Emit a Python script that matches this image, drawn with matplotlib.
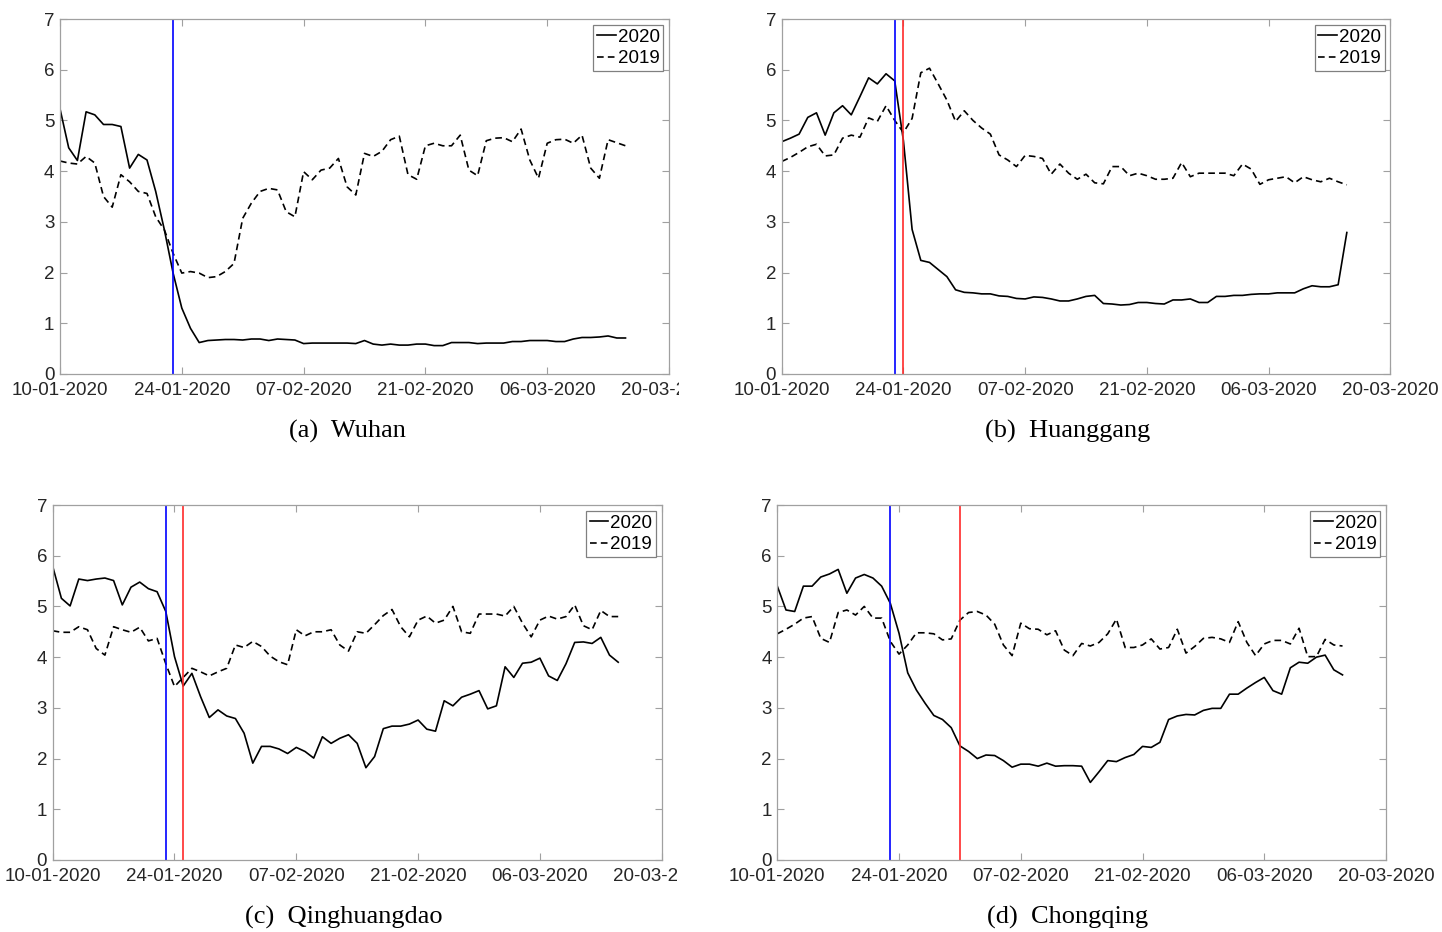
import numpy as np
import pandas as pd
import matplotlib
matplotlib.use("Agg")
import matplotlib.pyplot as plt
import matplotlib.dates as mdates
from matplotlib.transforms import Bbox, TransformedBbox

# daily index, 10 Jan - 15 Mar
dates = pd.date_range("2020-01-10", periods=66, freq="D")

wuhan_2020 = [5.23, 4.46, 4.21, 5.17, 5.11, 4.92, 4.92, 4.88, 4.06, 4.33,
              4.22, 3.60, 2.84, 1.99, 1.30, 0.90, 0.62, 0.66, 0.67, 0.68,
              0.68, 0.67, 0.69, 0.69, 0.66, 0.69, 0.68, 0.67, 0.60, 0.61,
              0.61, 0.61, 0.61, 0.61, 0.60, 0.66, 0.59, 0.57, 0.59, 0.57,
              0.57, 0.59, 0.59, 0.56, 0.56, 0.62, 0.62, 0.62, 0.60, 0.61,
              0.61, 0.61, 0.64, 0.64, 0.66, 0.66, 0.66, 0.64, 0.64, 0.69,
              0.72, 0.72, 0.73, 0.75, 0.71, 0.71]
wuhan_2019 = [4.20, 4.16, 4.14, 4.29, 4.16, 3.50, 3.29, 3.93, 3.79, 3.60,
              3.56, 3.10, 2.84, 2.38, 1.99, 2.02, 1.99, 1.90, 1.92, 2.02,
              2.18, 3.07, 3.37, 3.60, 3.66, 3.63, 3.20, 3.10, 3.99, 3.83,
              4.02, 4.06, 4.25, 3.69, 3.53, 4.35, 4.29, 4.39, 4.62, 4.69,
              3.93, 3.84, 4.50, 4.55, 4.50, 4.50, 4.71, 4.02, 3.91, 4.60,
              4.65, 4.66, 4.58, 4.83, 4.22, 3.86, 4.55, 4.62, 4.63, 4.55,
              4.71, 4.06, 3.86, 4.62, 4.56, 4.50]

huanggang_2020 = [4.58, 4.65, 4.73, 5.06, 5.15, 4.71, 5.15, 5.29, 5.11, 5.47,
                  5.84, 5.72, 5.92, 5.78, 4.60, 2.85, 2.24, 2.20, 2.06, 1.92,
                  1.66, 1.61, 1.60, 1.58, 1.58, 1.54, 1.53, 1.49, 1.48, 1.52,
                  1.51, 1.48, 1.44, 1.44, 1.48, 1.53, 1.55, 1.39, 1.38, 1.36,
                  1.37, 1.41, 1.41, 1.39, 1.38, 1.46, 1.46, 1.48, 1.41, 1.41,
                  1.53, 1.53, 1.55, 1.55, 1.57, 1.58, 1.58, 1.60, 1.60, 1.60,
                  1.68, 1.74, 1.72, 1.72, 1.76, 2.79]
huanggang_2019 = [4.19, 4.27, 4.37, 4.48, 4.53, 4.30, 4.32, 4.65, 4.71, 4.67,
                  5.05, 4.98, 5.29, 5.00, 4.76, 5.04, 5.94, 6.03, 5.72, 5.40,
                  4.98, 5.19, 5.00, 4.85, 4.73, 4.32, 4.22, 4.09, 4.31, 4.29,
                  4.25, 3.94, 4.14, 3.96, 3.84, 3.94, 3.77, 3.75, 4.09, 4.09,
                  3.91, 3.96, 3.91, 3.84, 3.84, 3.86, 4.17, 3.89, 3.96, 3.96,
                  3.96, 3.96, 3.91, 4.14, 4.04, 3.74, 3.83, 3.86, 3.89, 3.77,
                  3.89, 3.83, 3.79, 3.86, 3.79, 3.73]

qinhuangdao_2020 = [5.79, 5.16, 5.01, 5.54, 5.51, 5.54, 5.56, 5.51, 5.03, 5.38,
                    5.48, 5.35, 5.29, 4.90, 4.01, 3.43, 3.68, 3.22, 2.81, 2.96,
                    2.84, 2.79, 2.50, 1.91, 2.24, 2.24, 2.19, 2.10, 2.22, 2.14,
                    2.01, 2.43, 2.30, 2.40, 2.47, 2.30, 1.82, 2.04, 2.59, 2.64,
                    2.64, 2.68, 2.76, 2.58, 2.54, 3.14, 3.04, 3.21, 3.27, 3.34,
                    2.98, 3.04, 3.81, 3.60, 3.88, 3.90, 3.98, 3.63, 3.54, 3.87,
                    4.29, 4.30, 4.27, 4.39, 4.04, 3.90]
qinhuangdao_2019 = [4.52, 4.49, 4.49, 4.60, 4.54, 4.17, 4.04, 4.60, 4.54, 4.49,
                    4.59, 4.32, 4.37, 3.87, 3.42, 3.60, 3.78, 3.71, 3.63, 3.71,
                    3.78, 4.24, 4.19, 4.31, 4.21, 4.02, 3.91, 3.85, 4.54, 4.42,
                    4.50, 4.50, 4.54, 4.24, 4.12, 4.50, 4.47, 4.64, 4.82, 4.94,
                    4.60, 4.40, 4.73, 4.81, 4.67, 4.73, 5.00, 4.50, 4.47, 4.85,
                    4.85, 4.85, 4.81, 5.00, 4.67, 4.40, 4.73, 4.81, 4.75, 4.80,
                    5.03, 4.62, 4.54, 4.92, 4.80, 4.80]

chongqing_2020 = [5.40, 4.93, 4.90, 5.40, 5.40, 5.58, 5.64, 5.73, 5.26, 5.56,
                  5.63, 5.56, 5.40, 5.06, 4.47, 3.69, 3.35, 3.09, 2.85, 2.77,
                  2.61, 2.25, 2.14, 2.00, 2.07, 2.06, 1.96, 1.83, 1.89, 1.89,
                  1.85, 1.91, 1.85, 1.86, 1.86, 1.85, 1.53, 1.74, 1.96, 1.94,
                  2.02, 2.08, 2.24, 2.22, 2.32, 2.77, 2.84, 2.87, 2.86, 2.95,
                  2.99, 2.99, 3.27, 3.27, 3.39, 3.50, 3.60, 3.34, 3.27, 3.79,
                  3.90, 3.88, 4.00, 4.04, 3.75, 3.65]
chongqing_2019 = [4.46, 4.55, 4.65, 4.77, 4.80, 4.37, 4.29, 4.88, 4.93, 4.83,
                  5.00, 4.77, 4.77, 4.31, 4.06, 4.24, 4.48, 4.48, 4.46, 4.34,
                  4.36, 4.73, 4.88, 4.90, 4.83, 4.65, 4.24, 4.03, 4.67, 4.56,
                  4.55, 4.44, 4.52, 4.14, 4.03, 4.27, 4.22, 4.29, 4.46, 4.75,
                  4.19, 4.19, 4.24, 4.36, 4.16, 4.19, 4.55, 4.08, 4.21, 4.37,
                  4.39, 4.36, 4.29, 4.70, 4.29, 4.03, 4.26, 4.33, 4.33, 4.26,
                  4.57, 4.01, 4.01, 4.35, 4.24, 4.22]

captions = ["(a)  Wuhan", "(b)  Huanggang", "(c)  Qinghuangdao", "(d)  Chongqing"]
blue_dates = ["2020-01-23", "2020-01-23", "2020-01-23", "2020-01-23"]
red_dates = [None, "2020-01-24", "2020-01-25", "2020-01-31"]
tick_dates = pd.date_range("2020-01-10", "2020-03-20", freq="14D")

series = [(wuhan_2020, wuhan_2019), (huanggang_2020, huanggang_2019),
          (qinhuangdao_2020, qinhuangdao_2019), (chongqing_2020, chongqing_2019)]

W, H = 1442, 932
# axes boxes in pixels: left, top, right, bottom
boxes = [(60, 19, 669, 374), (781.7, 19, 1390.3, 374),
         (52.7, 505, 661.7, 860), (777.3, 505, 1386, 860)]
caption_pos = [(347, 431), (1068, 431), (344, 917), (1068, 917)]
clip_right = [679, None, 677, None]

plt.rcParams["font.family"] = ["Liberation Sans", "DejaVu Sans"]
fig = plt.figure(figsize=(W / 100, H / 100), dpi=100)

for i, (y20, y19) in enumerate(series):
    l, t, r, b = boxes[i]
    ax = fig.add_axes([l / W, 1 - b / H, (r - l) / W, (b - t) / H])
    ax.plot(dates, y20, color="black", lw=1.2, label="2020")
    ax.plot(dates, y19, color="black", lw=1.2, ls=(0, (4, 2.5)), label="2019")
    ax.axvline(pd.Timestamp(blue_dates[i]), color="#0000ff", lw=1.2)
    if red_dates[i]:
        ax.axvline(pd.Timestamp(red_dates[i]), color="#ff2a2a", lw=1.2)

    ax.set_xlim(pd.Timestamp("2020-01-10"), pd.Timestamp("2020-03-20"))
    ax.set_ylim(0, 7)
    ax.set_yticks(range(8))
    ax.set_xticks(tick_dates)
    ax.xaxis.set_major_formatter(mdates.DateFormatter("%d-%m-%Y"))

    for s in ax.spines.values():
        s.set_color("#a0a0a0")
        s.set_linewidth(0.9)
    ax.tick_params(direction="in", length=5, width=0.8, color="#a0a0a0",
                   labelsize=13.5, labelcolor="#262626", top=True, right=True)
    ax.tick_params(axis="x", pad=6)
    ax.tick_params(axis="y", pad=4)

    leg = ax.legend(loc="upper right", fontsize=13.5, handlelength=1.0,
                    handletextpad=0.1, labelspacing=0.25, borderpad=0.2,
                    borderaxespad=0.3, fancybox=False, framealpha=1)
    leg.get_frame().set_edgecolor("#808080")
    leg.get_frame().set_linewidth(0.9)

    # last date label is cut off at the panel edge
    if clip_right[i]:
        lab = ax.get_xticklabels()[-1]
        lab.set_clip_on(True)
        lab.set_clip_box(TransformedBbox(Bbox([[0, 0], [clip_right[i] / W, 1]]),
                                         fig.transFigure))

    cx, cy = caption_pos[i]
    fig.text(cx / W, 1 - cy / H, captions[i], ha="center", va="center",
             fontsize=19, family=["Liberation Serif", "DejaVu Serif"])

fig.savefig("out.png", dpi=100)
